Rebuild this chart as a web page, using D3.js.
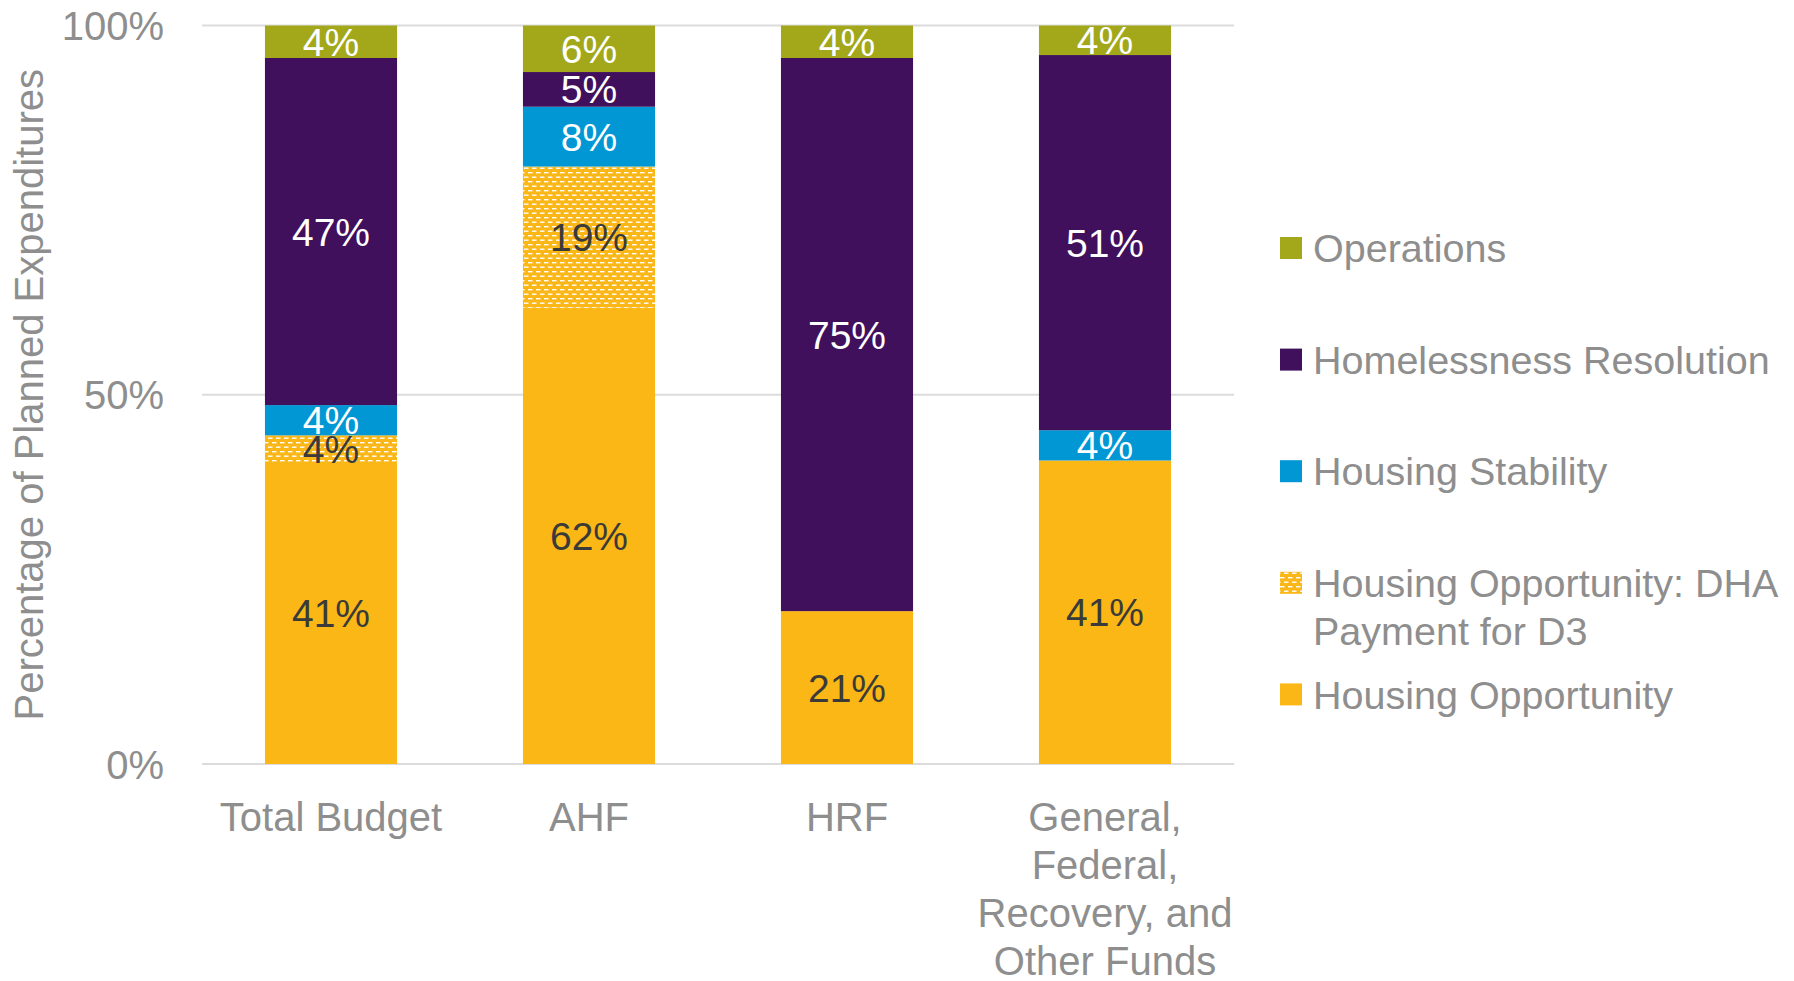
<!DOCTYPE html>
<html>
<head>
<meta charset="utf-8">
<script src="https://cdn.jsdelivr.net/npm/d3@7"></script>
<style>
  html, body { margin: 0; padding: 0; background: #fff; }
  svg { display: block; font-family: "Liberation Sans", Arial, sans-serif; }
</style>
</head>
<body>
<svg id="chart" width="1794" height="981"></svg>
<script>
// ---- Data ----
const categories = ["Total Budget", "AHF", "HRF", "General, Federal, Recovery, and Other Funds"];
const categoryLines = [["Total Budget"], ["AHF"], ["HRF"], ["General,", "Federal,", "Recovery, and", "Other Funds"]];
const seriesNames = ["Housing Opportunity", "Housing Opportunity: DHA Payment for D3", "Housing Stability", "Homelessness Resolution", "Operations"];
const housingOpportunity = [40.9, 61.8, 20.7, 41.1];
const dhaPayment        = [3.6, 19.1, 0, 0];
const housingStability  = [4.1, 8.1, 0, 4.1];
const homelessness      = [47.0, 4.7, 74.9, 50.8];
const operations        = [4.4, 6.3, 4.4, 4.0];
const yTicks = [0, 50, 100];
const legendOrder = ["Operations", "Homelessness Resolution", "Housing Stability", "Housing Opportunity: DHA Payment for D3", "Housing Opportunity"];
const legendLines = [["Operations"], ["Homelessness Resolution"], ["Housing Stability"], ["Housing Opportunity: DHA", "Payment for D3"], ["Housing Opportunity"]];

// ---- Styles ----
const colors = {
  "Housing Opportunity": "#FBB715",
  "Housing Opportunity: DHA Payment for D3": "url(#dhaPattern)",
  "Housing Stability": "#0097D4",
  "Homelessness Resolution": "#40105D",
  "Operations": "#A2A81A"
};
const labelColors = {
  "Housing Opportunity": "#3a3a3a",
  "Housing Opportunity: DHA Payment for D3": "#3a3a3a",
  "Housing Stability": "#ffffff",
  "Homelessness Resolution": "#ffffff",
  "Operations": "#ffffff"
};
const textGray = "#8e8e8e";

const seriesValues = [housingOpportunity, dhaPayment, housingStability, homelessness, operations];
const rows = categories.map((c, i) => {
  const r = { category: c };
  seriesNames.forEach((s, j) => r[s] = seriesValues[j][i]);
  return r;
});

const svg = d3.select("#chart");
const defs = svg.append("defs");
const pat = defs.append("pattern")
  .attr("id", "dhaPattern")
  .attr("patternUnits", "userSpaceOnUse")
  .attr("width", 8).attr("height", 9);
pat.append("rect").attr("width", 8).attr("height", 9).attr("fill", "#FBB715");
pat.append("rect").attr("x", 0).attr("y", 1).attr("width", 4.5).attr("height", 1.4).attr("fill", "#ffffff");
pat.append("rect").attr("x", 4).attr("y", 5.5).attr("width", 4.5).attr("height", 1.4).attr("fill", "#ffffff");
pat.append("rect").attr("x", -4).attr("y", 5.5).attr("width", 4.5).attr("height", 1.4).attr("fill", "#ffffff");

const plot = { left: 202, right: 1234, top: 25.5, bottom: 764 };

const x = d3.scaleBand()
  .domain(categories)
  .range([plot.left, plot.right])
  .paddingInner(0.488)
  .paddingOuter(0.244);

const y = d3.scaleLinear().domain([0, 100]).range([plot.bottom, plot.top]);

// gridlines
svg.append("g")
  .selectAll("line")
  .data(yTicks)
  .join("line")
  .attr("x1", plot.left).attr("x2", plot.right)
  .attr("y1", d => y(d)).attr("y2", d => y(d))
  .attr("stroke", "#dcdcdc").attr("stroke-width", 2);

// y axis labels
const yAxis = d3.axisLeft(y).tickValues(yTicks).tickFormat(d => d + "%").tickSize(0).tickPadding(0);
const yg = svg.append("g").attr("transform", `translate(164,0)`).call(yAxis);
yg.select(".domain").remove();
yg.selectAll("text")
  .attr("fill", textGray)
  .style("font-size", "40px")
  .style("font-family", "'Liberation Sans', Arial, sans-serif")
  .attr("dy", "0.35em");

// y title
svg.append("text")
  .attr("transform", `translate(43, ${y(50)}) rotate(-90)`)
  .attr("text-anchor", "middle")
  .attr("fill", textGray)
  .style("font-size", "40px")
  .text("Percentage of Planned Expenditures");

// stacks
const stack = d3.stack().keys(seriesNames);
const stacked = stack(rows);

const layers = svg.append("g").selectAll("g")
  .data(stacked)
  .join("g")
  .attr("fill", d => colors[d.key]);

layers.selectAll("rect")
  .data(d => d.map(p => ({ key: d.key, p })))
  .join("rect")
  .attr("x", d => x(d.p.data.category))
  .attr("width", x.bandwidth())
  .attr("y", d => y(d.p[1]))
  .attr("height", d => y(d.p[0]) - y(d.p[1]));

// data labels
const labelG = svg.append("g");
stacked.forEach(layer => {
  layer.forEach(p => {
    const v = p[1] - p[0];
    if (v <= 0.0001) return;
    labelG.append("text")
      .attr("x", x(p.data.category) + x.bandwidth() / 2)
      .attr("y", (y(p[0]) + y(p[1])) / 2)
      .attr("dy", "0.36em")
      .attr("text-anchor", "middle")
      .attr("fill", labelColors[layer.key])
      .style("font-size", "39px")
      .text(Math.round(p.data[layer.key]) + "%");
  });
});

// x labels
const xg = svg.append("g");
categories.forEach((c, i) => {
  const t = xg.append("text")
    .attr("x", x(c) + x.bandwidth() / 2)
    .attr("y", 831)
    .attr("text-anchor", "middle")
    .attr("fill", textGray)
    .style("font-size", "40px");
  categoryLines[i].forEach((line, k) => {
    t.append("tspan")
      .attr("x", x(c) + x.bandwidth() / 2)
      .attr("dy", k === 0 ? 0 : 48)
      .text(line);
  });
});

// legend
const lg = svg.append("g");
legendOrder.forEach((name, i) => {
  const cy = 248 + i * 111.6;
  lg.append("rect")
    .attr("x", 1280).attr("y", cy - 11)
    .attr("width", 22).attr("height", 22)
    .attr("fill", colors[name]);
  const t = lg.append("text")
    .attr("x", 1313).attr("y", cy)
    .attr("fill", textGray)
    .style("font-size", "39.5px");
  legendLines[i].forEach((line, k) => {
    t.append("tspan").attr("x", 1313).attr("dy", k === 0 ? "0.36em" : 48).text(line);
  });
});
</script>
</body>
</html>
